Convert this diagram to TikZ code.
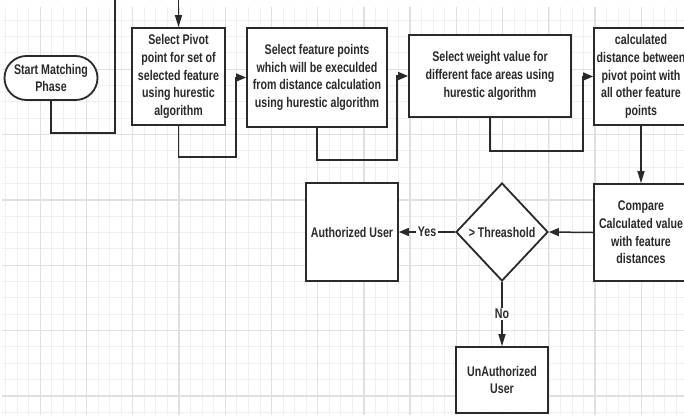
\documentclass[tikz,border=0pt]{standalone}
\usepackage{fontspec}
\usetikzlibrary{arrows.meta,shapes.geometric,shapes.misc}
\newfontfamily\nf{Liberation Sans}[FakeStretch=0.76]
\definecolor{gridminor}{HTML}{EFEFEF}
\definecolor{gridmajor}{HTML}{E0E0E0}
\definecolor{ink}{HTML}{2A2A2A}
\tikzset{
  txt/.style={font=\nf\bfseries\fontsize{14}{17.7}\selectfont, align=center, text=ink},
  boxnode/.style={txt, draw=ink, line width=1.8pt, fill=white, rectangle, inner sep=0pt},
  conn/.style={draw=ink, line width=1.5pt},
  hArr/.style={conn, -{Triangle[length=10pt,width=8pt]}},
  vArr/.style={conn, -{Triangle[length=12pt,width=7pt]}},
  lbl/.style={txt, fill=white, inner sep=1.5pt},
}
\begin{document}
\begin{tikzpicture}[x=1pt,y=-1pt]
\useasboundingbox (0,0) rectangle (684,415);
\fill[white] (0,0) rectangle (684,415);
% grid
\foreach \i in {0,...,58} {\draw[gridminor, line width=1pt] ({5.7+11.56*\i},7) -- ({5.7+11.56*\i},415);}
\foreach \i in {0,...,24} {\draw[gridminor, line width=1pt] (2,{20.3+16.33*\i}) -- (684,{20.3+16.33*\i});}
\foreach \j in {0,...,13} {\draw[gridmajor, line width=1.3pt] ({40.3+46.23*\j},7) -- ({40.3+46.23*\j},415);}
\foreach \j in {0,...,5} {\draw[gridmajor, line width=1.3pt] (2,{69.3+65.33*\j}) -- (684,{69.3+65.33*\j});}

% nodes
\node[boxnode, rounded rectangle, minimum width=93pt, minimum height=44pt] (start) at (51,78) {Start Matching\\Phase};
\node[boxnode, minimum width=93pt, minimum height=97pt] (pivot) at (178.5,76.5) {Select Pivot\\point for set of\\selected feature\\using hurestic\\algorithm};
\node[boxnode, minimum width=140pt, minimum height=99pt] (fsel) at (317,77.5) {Select feature points\\which will be execulded\\from distance calculation\\using hurestic algorithm};
\node[boxnode, minimum width=162pt, minimum height=82pt] (wsel) at (490,76) {Select weight value for\\different face areas using\\hurestic algorithm};
\node[boxnode, minimum width=94pt, minimum height=97pt] (calc) at (641,76.5) {calculated\\distance between\\pivot point with\\all other feature\\points};
\node[boxnode, minimum width=94pt, minimum height=97pt] (compare) at (641,232.5) {Compare\\Calculated value\\with feature\\distances};
\node[boxnode, diamond, minimum width=92pt, minimum height=98pt] (thr) at (502,232) {> Threashold};
\node[boxnode, minimum width=92pt, minimum height=98pt] (auth) at (352,232) {Authorized User};
\node[boxnode, minimum width=92pt, minimum height=66pt] (unauth) at (502,380) {UnAuthorized\\User};

% coordinates
\coordinate (s1) at (115,133);
\coordinate (topA) at (115,-2);
\coordinate (topB) at (178.5,-2);
\coordinate (b1) at (236,157);
\coordinate (b2) at (397,160);
\coordinate (b3) at (583,151);

% connectors
\draw[conn] (start.south) |- (s1) -- (topA);
\draw[vArr] (topB) -- (pivot.north);
\draw[hArr] (pivot.south) |- (b1) |- (fsel.west);
\draw[hArr] (fsel.south) |- (b2) |- (wsel.west);
\draw[hArr] (wsel.south) |- (b3) |- (calc.west);
\draw[vArr] (calc.south) -- (compare.north);
\draw[hArr] (compare.west) -- (thr.east);
\draw[hArr] (thr.west) -- node[lbl] {Yes} (auth.east);
\draw[vArr] (thr.south) -- node[lbl] {No} (unauth.north);
\end{tikzpicture}
\end{document}
